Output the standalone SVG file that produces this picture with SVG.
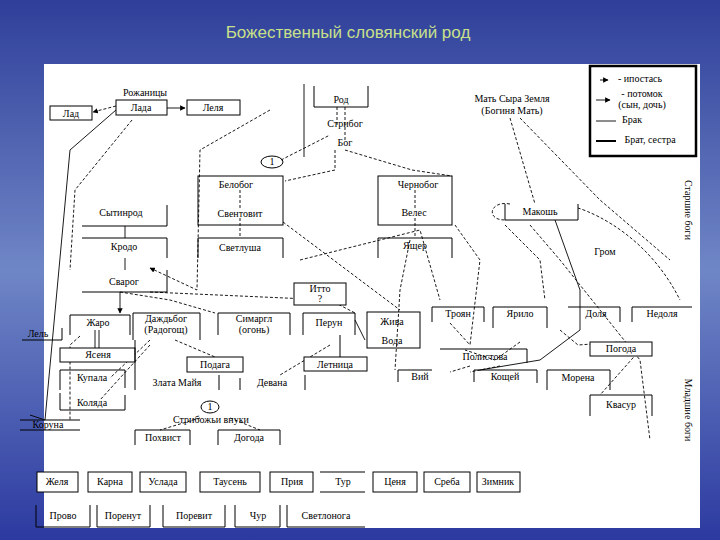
<svg xmlns="http://www.w3.org/2000/svg" width="720" height="540" viewBox="0 0 720 540">
<defs>
<linearGradient id="bg" x1="0" y1="0" x2="0" y2="1"><stop offset="0" stop-color="#2f3f9a"/><stop offset="0.5" stop-color="#6f86c6"/><stop offset="1" stop-color="#2c3aa0"/></linearGradient>
<marker id="a" viewBox="0 0 10 10" refX="9" refY="5" markerWidth="6" markerHeight="6" orient="auto"><path d="M0,0L10,5L0,10z" fill="#000"/></marker>
<style>
.b{fill:#fff;stroke:#000;stroke-width:1}
.o{fill:none;stroke:#000;stroke-width:1}
.t{font-family:"Liberation Serif",serif;font-size:10px;text-anchor:middle;fill:#000}
.d{fill:none;stroke:#000;stroke-width:0.9;stroke-dasharray:3,2}
.s{fill:none;stroke:#000;stroke-width:0.9}
</style>
</defs>
<rect width="720" height="540" fill="url(#bg)"/>
<rect x="44" y="64" width="656" height="464" fill="#fff"/>
<text x="348" y="38" font-family="Liberation Sans,sans-serif" font-size="17" fill="#c8e08a" text-anchor="middle">Божественный словянский род</text>

<g id="connectors">
<path class="s" d="M167,108H185" marker-end="url(#a)"/>
<path class="d" d="M116,106L93,112" marker-end="url(#a)"/>
<path class="s" d="M116,110L70,150L45,420L30,415"/>
<path class="d" d="M132,120L75,190L70,270"/>
<path class="s" d="M304,84V157"/>
<path class="d" d="M337,107V125M345,107V142M335,150V170L285,181"/>
<path class="d" d="M270,110L200,150L197,290L150,268" marker-end="url(#a)"/>
<path class="d" d="M281,160L330,135"/>
<path class="d" d="M240,190V210M240,218V238M415,190V210M415,218V238"/>
<path class="d" d="M345,150L412,170L452,176"/>
<path class="s" d="M125,226V238M125,258V270"/>
<path class="d" d="M510,118L535,204M520,118L600,200L670,260"/>
<path class="d" d="M510,204C490,200 485,220 505,220M578,208C600,215 650,240 680,300"/>
<path class="s" d="M555,220L580,290L580,330L540,360L480,370"/>
<path class="d" d="M505,225L540,260L545,300M530,225L560,260L640,360L650,440"/>
<path class="d" d="M283,222L400,310M300,260L420,230L440,300"/>
<path class="d" d="M410,240L400,290L395,370"/>
<path class="d" d="M455,225L480,260L470,345"/>
<path class="s" d="M120,292V313" marker-end="url(#a)"/>
<path class="d" d="M120,292L170,300L215,313M150,292L330,300L355,313"/>
<path class="s" d="M95,330V348M99,330V348M355,320L365,340"/>
<path class="d" d="M80,336L70,345L70,420"/>
<path class="d" d="M150,340L110,378M150,345L100,400M175,340L215,357M330,345L280,375"/>
<path class="d" d="M560,330L578,345L620,342M640,350L600,395M520,342L495,360L465,350"/>
<path class="d" d="M450,323L470,345M470,366L450,372M500,366L470,372"/>
<path class="d" d="M200,418L160,430M230,418L260,430"/>
</g>

<g id="legend"><rect x="590" y="66" width="106" height="90" fill="#fff" stroke="#000" stroke-width="2.5"/>
<path class="s" d="M600,80h8" marker-end="url(#a)"/><text class="t" x="640" y="82" font-size="7">- ипостась</text>
<path class="s" d="M596,100h14" marker-end="url(#a)"/><text class="t" x="642" y="97" font-size="7">- потомок</text><text class="t" x="642" y="108" font-size="7">(сын, дочь)</text>
<path class="s" d="M596,121h20"/><text class="t" x="632" y="123" font-size="7">Брак</text>
<path d="M596,141h20" stroke="#000" stroke-width="2"/><text class="t" x="650" y="143" font-size="7">Брат, сестра</text></g>

<g id="lad"><rect class="b" x="50" y="106" width="42" height="14"/><text class="t" x="71" y="117">Лад</text></g>
<g id="lada"><text class="t" x="145" y="96">Рожаницы</text><rect class="b" x="116" y="100" width="51" height="15"/><text class="t" x="141" y="111">Лада</text></g>
<g id="lelya"><rect class="b" x="187" y="100" width="53" height="15"/><text class="t" x="213" y="111">Леля</text></g>
<g id="rod"><path class="o" d="M314,86V107H368V86"/><text class="t" x="341" y="103">Род</text><text class="t" x="345" y="127">Стрибог</text><text class="t" x="345" y="146">Бог</text></g>
<g id="c1"><ellipse class="o" cx="272" cy="162" rx="11" ry="6"/><text class="t" x="272" y="165" font-size="8">1</text></g>
<g id="belobog"><rect class="o" x="198" y="176" width="85" height="49"/><text class="t" x="236" y="188">Белобог</text><text class="t" x="240" y="217">Свентовит</text></g>
<g id="svetlusha"><path class="o" d="M198,258V238H283V258"/><text class="t" x="240" y="251">Светлуша</text></g>
<g id="sytinrod"><path class="o" d="M82,226H167V205"/><text class="t" x="121" y="216">Сытинрод</text></g>
<g id="kroda"><path class="o" d="M82,238H167V258"/><text class="t" x="124" y="250">Кродо</text></g>
<g id="svarog"><path class="o" d="M167,270V292H82"/><text class="t" x="124" y="285">Сварог</text></g>
<g id="chernobog"><rect class="o" x="378" y="176" width="74" height="49"/><text class="t" x="418" y="188">Чернобог</text><text class="t" x="414" y="216">Велес</text></g>
<g id="yascher"><path class="o" d="M378,258V238H452V258"/><text class="t" x="415" y="249">Ящер</text></g>
<g id="mat"><text class="t" x="512" y="102">Мать Сыра Земля</text><text class="t" x="512" y="114">(Богиня Мать)</text></g>
<g id="makosh"><path class="o" d="M505,204V220H578V204"/><text class="t" x="540" y="215">Макошь</text></g>
<g id="grom"><text class="t" x="605" y="255">Гром</text></g>
<g id="itto"><rect class="b" x="294" y="283" width="52" height="22"/><text class="t" x="320" y="292" font-size="8">Итто</text><text class="t" x="320" y="302" font-size="8">?</text></g>
<g id="zharo"><path class="o" d="M70,335V315H130V335"/><text class="t" x="98" y="326">Жаро</text></g>
<g id="dazhbog"><path class="o" d="M133,340V313H200V340"/><text class="t" x="166" y="322" font-size="9">Даждьбог</text><text class="t" x="166" y="333" font-size="9">(Радогощ)</text></g>
<g id="simargl"><path class="o" d="M218,335V313H290V335"/><text class="t" x="254" y="322" font-size="9">Симаргл</text><text class="t" x="254" y="333" font-size="8">(огонь)</text></g>
<g id="perun"><path class="o" d="M303,335V313H355V335"/><text class="t" x="329" y="326">Перун</text></g>
<g id="zhiva"><rect class="o" x="367" y="312" width="53" height="36"/><text class="t" x="392" y="325">Жива</text><text class="t" x="392" y="344">Вода</text></g>
<g id="lel"><path class="o" d="M22,340H62V328"/><text class="t" x="38" y="337">Лель</text></g>
<g id="yasenya"><rect class="b" x="60" y="348" width="75" height="14"/><text class="t" x="98" y="358">Ясеня</text></g>
<g id="kupala"><path class="o" d="M60,390V370H125V388"/><text class="t" x="92" y="381">Купала</text></g>
<g id="kolyada"><path class="o" d="M60,393V410H125V395"/><text class="t" x="92" y="406">Коляда</text></g>
<g id="koruna"><path class="o" d="M20,420H80M20,430H80"/><text class="t" x="48" y="428">Коруна</text></g>
<g id="zlata"><path class="o" d="M135,340V390M219,375V390"/><text class="t" x="177" y="386">Злата Майя</text></g>
<g id="podaga"><rect class="b" x="187" y="357" width="56" height="15"/><text class="t" x="215" y="368">Подага</text></g>
<g id="devana"><path class="o" d="M240,378V390M305,375V390"/><text class="t" x="272" y="386">Девана</text></g>
<g id="letnica"><rect class="b" x="304" y="357" width="63" height="14"/><text class="t" x="335" y="368">Летница</text><path class="o" d="M340,335V357"/></g>
<g id="troyan"><path class="o" d="M432,322V307H484V322"/><text class="t" x="458" y="317">Троян</text></g>
<g id="yarilo"><path class="o" d="M493,328V307H547V328"/><text class="t" x="520" y="317">Ярило</text></g>
<g id="dolya"><path class="o" d="M568,307H620V322"/><text class="t" x="596" y="317">Доля</text></g>
<g id="nedolya"><path class="o" d="M632,322V307H692"/><text class="t" x="662" y="317">Недоля</text></g>
<g id="polistova"><path class="o" d="M440,349H527V363"/><text class="t" x="485" y="360">Полистова</text></g>
<g id="viy"><path class="o" d="M398,382V370H432"/><text class="t" x="420" y="380">Вий</text></g>
<g id="koschey"><path class="o" d="M474,382V370H537V383"/><text class="t" x="505" y="380">Кощей</text></g>
<g id="morena"><path class="o" d="M547,390V370H610V390"/><text class="t" x="578" y="381">Морена</text></g>
<g id="pogoda"><rect class="b" x="590" y="342" width="62" height="14"/><text class="t" x="621" y="352">Погода</text></g>
<g id="kvasur"><path class="o" d="M590,416V395H652V416"/><text class="t" x="621" y="408">Квасур</text></g>
<g id="vnuki"><ellipse class="o" cx="210" cy="407" rx="9" ry="6"/><text class="t" x="210" y="410" font-size="8">1</text><text class="t" x="211" y="423">Стрибожьи внуки</text></g>
<g id="pohvist"><path class="o" d="M135,445V430H190V445"/><text class="t" x="163" y="441">Похвист</text></g>
<g id="dogoda"><path class="o" d="M218,445V430H280V445"/><text class="t" x="249" y="441">Догода</text></g>

<text class="t" x="685" y="210" font-family="Liberation Sans,sans-serif" font-size="11" transform="rotate(90 685 210)">Старшие боги</text>
<text class="t" x="685" y="410" font-family="Liberation Sans,sans-serif" font-size="11" transform="rotate(90 685 410)">Младшие боги</text>

<g id="bottom1">
<rect class="b" x="37" y="472" width="41" height="20"/><text class="t" x="57" y="485">Желя</text>
<rect class="b" x="88" y="472" width="44" height="20"/><text class="t" x="110" y="485">Карна</text>
<rect class="b" x="140" y="472" width="46" height="20"/><text class="t" x="163" y="485">Услада</text>
<rect class="b" x="200" y="472" width="60" height="20"/><text class="t" x="230" y="485">Таусень</text>
<rect class="b" x="270" y="472" width="43" height="20"/><text class="t" x="292" y="485">Прия</text>
<path class="o" d="M320,472H365M320,492H365"/><text class="t" x="343" y="485">Тур</text>
<rect class="b" x="373" y="472" width="44" height="20"/><text class="t" x="395" y="485">Ценя</text>
<rect class="b" x="424" y="472" width="46" height="20"/><text class="t" x="447" y="485">Среба</text>
<rect class="b" x="477" y="472" width="43" height="20"/><text class="t" x="498" y="485">Зимник</text>
</g>
<g id="bottom2">
<path class="o" d="M36,505V527M90,505V527M36,527H90"/><text class="t" x="63" y="519">Прово</text>
<path class="o" d="M97,505V527M150,505V527M97,527H150"/><text class="t" x="123" y="519">Поренут</text>
<path class="o" d="M163,505V527M225,505V527M163,527H225"/><text class="t" x="194" y="519">Поревит</text>
<path class="o" d="M235,505V527M280,505V527M235,527H280"/><text class="t" x="258" y="519">Чур</text>
<path class="o" d="M287,505V527M287,527H365"/><text class="t" x="326" y="519">Светлонога</text>
</g>
</svg>
